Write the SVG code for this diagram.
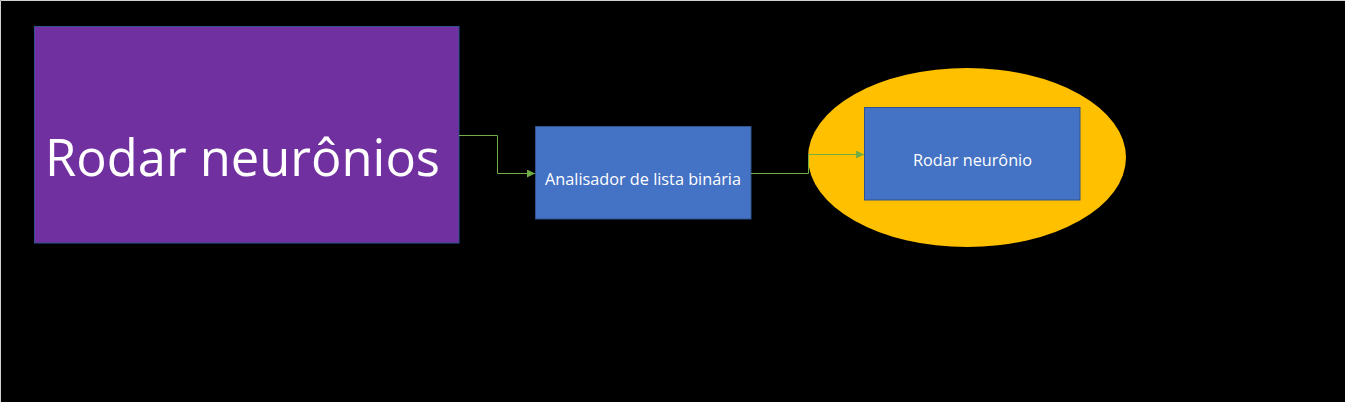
<svg xmlns="http://www.w3.org/2000/svg" width="1345" height="402" viewBox="0 0 1345 402">
  <defs>
    <style>
      .box { stroke: #2f528f; stroke-width: 1; }
      .lbl { font-family: "Open Sans", "Liberation Sans", sans-serif; fill: #ffffff; }
      .conn { fill: none; stroke: #70ad47; stroke-width: 1; }
    </style>
    <marker id="arrow" viewBox="0 0 10 10" refX="10" refY="5" markerWidth="9" markerHeight="8" markerUnits="userSpaceOnUse" orient="auto">
      <path d="M0,0 L10,5 L0,10 z" fill="#70ad47"/>
    </marker>
  </defs>
  <rect x="0" y="0" width="1345" height="402" fill="#000000"/>
  <path d="M0.5,402 V0.5 H1345" fill="none" stroke="#d0d0d0" stroke-width="1"/>

  <g id="node-rodar-neuronios">
    <rect class="box" x="34.5" y="26.5" width="424.5" height="216.5" fill="#7030a0"/>
    <text class="lbl" x="45" y="176" font-size="52" textLength="395" lengthAdjust="spacingAndGlyphs">Rodar neurônios</text>
  </g>

  <g id="node-analisador">
    <rect class="box" x="535.5" y="126.5" width="215.5" height="92.5" fill="#4472c4"/>
    <text class="lbl" x="545" y="184.5" font-size="16" textLength="196" lengthAdjust="spacingAndGlyphs">Analisador de lista binária</text>
  </g>

  <g id="node-rodar-neuronio">
    <ellipse cx="967" cy="157.5" rx="159" ry="89.5" fill="#ffc000"/>
    <rect class="box" x="864.5" y="107.5" width="215.5" height="92.5" fill="#4472c4"/>
    <text class="lbl" x="913" y="165.5" font-size="16" textLength="119" lengthAdjust="spacingAndGlyphs">Rodar neurônio</text>
  </g>

  <g id="connectors">
    <path class="conn" d="M459,135.5 H497.5 V173.5 H535" marker-end="url(#arrow)"/>
    <path class="conn" d="M751,173.5 H808.5 V154.5 H864" marker-end="url(#arrow)"/>
  </g>
</svg>
